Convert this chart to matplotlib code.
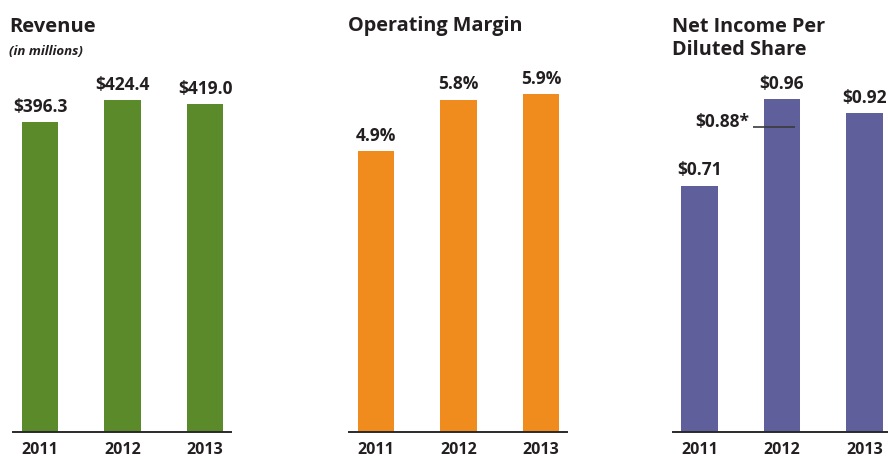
import matplotlib
matplotlib.use("Agg")
import matplotlib.pyplot as plt

plt.rcParams['font.family'] = ['Open Sans', 'DejaVu Sans']

years = ['2011', '2012', '2013']

revenue = [396.3, 424.4, 419.0]
revenue_labels = ['$396.3', '$424.4', '$419.0']

op_margin = [4.9, 5.8, 5.9]
op_margin_labels = ['4.9%', '5.8%', '5.9%']

eps = [0.71, 0.96, 0.92]
eps_labels = ['$0.71', '$0.96', '$0.92']
eps_adjusted = 0.88
eps_adjusted_label = '$0.88*'

GREEN = '#5b8a2a'
ORANGE = '#f08c1e'
PURPLE = '#5f5f9b'
TEXT = '#231f20'

W, H = 888, 458
fig = plt.figure(figsize=(W / 100, H / 100), dpi=100)


def px_axes(left, width):
    # axes spans from the figure top down to the baseline at y=432 px
    return fig.add_axes([left / W, (H - 432) / H, width / W, 432 / H])


def panel(left, values, labels, color, ytop):
    ax = px_axes(left, 218)
    x = range(len(values))
    ax.bar(x, values, width=0.44, color=color, zorder=2)
    ax.set_xlim(-0.327, 2.315)
    ax.set_ylim(0, ytop)
    for xi, v, lab in zip(x, values, labels):
        ax.annotate(lab, (xi, v), xytext=(0, 7.5), textcoords='offset points',
                    ha='center', va='baseline', fontsize=12.5,
                    fontweight='bold', color=TEXT, clip_on=False)
    for s in ['top', 'left', 'right']:
        ax.spines[s].set_visible(False)
    ax.spines['bottom'].set_color('#2a2a2a')
    ax.spines['bottom'].set_linewidth(1.4)
    ax.set_yticks([])
    ax.set_xticks(list(x))
    ax.set_xticklabels(years, fontsize=11.5, fontweight='bold', color=TEXT)
    ax.tick_params(axis='x', length=0, pad=7.5)
    ax.patch.set_alpha(0)
    return ax


panel(13, revenue, revenue_labels, GREEN, 552.2)
panel(349, op_margin, op_margin_labels, ORANGE, 7.54)
ax3 = panel(672.5, eps, eps_labels, PURPLE, 1.246)

# adjusted EPS marker for 2012
ax3.plot([0.65, 1.16], [eps_adjusted, eps_adjusted], color='#3a3a3a',
         lw=1.2, zorder=3, solid_capstyle='butt')
ax3.text(0.6, eps_adjusted, eps_adjusted_label, ha='right', va='baseline',
         fontsize=12.5, fontweight='bold', color=TEXT)

# titles
fig.text(9 / W, 1 - 32 / H, 'Revenue', fontsize=14.5, fontweight='bold',
         color=TEXT, va='baseline')
fig.text(9 / W, 1 - 55 / H, '(in millions)', fontsize=9.5, fontweight='bold',
         fontstyle='italic', color=TEXT, va='baseline')
fig.text(348 / W, 1 - 31 / H, 'Operating Margin', fontsize=14.3,
         fontweight='bold', color=TEXT, va='baseline')
fig.text(672 / W, 1 - 55 / H, 'Net Income Per\nDiluted Share', fontsize=14.3,
         fontweight='bold', color=TEXT, va='baseline', linespacing=1.2)

fig.savefig('out.png', dpi=100)
